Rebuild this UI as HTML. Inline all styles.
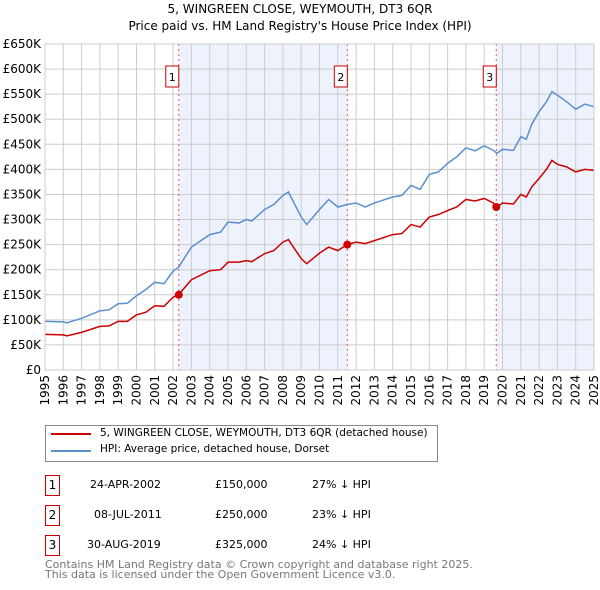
<!DOCTYPE html>
<html><head><meta charset="utf-8"><style>
body{margin:0;background:#fff;font-family:"DejaVu Sans","Liberation Sans",sans-serif;}
#wrap{position:relative;width:600px;height:590px;overflow:hidden}
.t{position:absolute;font-size:12px;color:#000;white-space:nowrap}
.box{position:absolute;width:13px;height:19px;border:1px solid #c00;font-size:12px;text-align:center;line-height:19px}
</style></head><body><div id="wrap">
<svg id="chart" width="600" height="420" style="position:absolute;left:0;top:0"></svg>
<div style="position:absolute;left:45px;top:425px;width:391px;height:35px;border:1px solid #888;"></div>
<div style="position:absolute;left:51px;top:433px;width:40px;height:2px;background:#c00"></div>
<div class="t" style="left:100px;top:427px;font-size:10.5px">5, WINGREEN CLOSE, WEYMOUTH, DT3 6QR (detached house)</div>
<div style="position:absolute;left:51px;top:450px;width:40px;height:2px;background:#5b8fd0"></div>
<div class="t" style="left:100px;top:443px;font-size:10.5px">HPI: Average price, detached house, Dorset</div>

<div class="box" style="left:45px;top:475px">1</div>
<div class="t" style="left:90px;top:478px;font-size:11px">24-APR-2002</div>
<div class="t" style="left:215px;top:478px;font-size:11px">£150,000</div>
<div class="t" style="left:312px;top:478px;font-size:11px">27% ↓ HPI</div>
<div class="box" style="left:45px;top:505px">2</div>
<div class="t" style="left:94px;top:508px;font-size:11px">08-JUL-2011</div>
<div class="t" style="left:215px;top:508px;font-size:11px">£250,000</div>
<div class="t" style="left:312px;top:508px;font-size:11px">23% ↓ HPI</div>
<div class="box" style="left:45px;top:535px">3</div>
<div class="t" style="left:87px;top:538px;font-size:11px">30-AUG-2019</div>
<div class="t" style="left:215px;top:538px;font-size:11px">£325,000</div>
<div class="t" style="left:312px;top:538px;font-size:11px">24% ↓ HPI</div>
<div class="t" style="left:45px;top:560px;font-size:11px;color:#777;line-height:10px">Contains HM Land Registry data © Crown copyright and database right 2025.<br>This data is licensed under the Open Government Licence v3.0.</div>
</div>
<script>
const hpiYears=[1995,1996,1996.2,1997,1998,1998.5,1999,1999.5,2000,2000.5,2001,2001.5,2002,2002.3,2003,2004,2004.6,2005,2005.6,2006,2006.3,2007,2007.5,2008,2008.3,2009,2009.3,2010,2010.5,2011,2011.5,2012,2012.5,2013,2014,2014.5,2015,2015.5,2016,2016.5,2017,2017.5,2018,2018.5,2019,2019.5,2019.7,2020,2020.6,2021,2021.3,2021.6,2022,2022.4,2022.7,2023,2023.5,2024,2024.5,2025];
const hpiValues=[97,96,94,103,118,120,132,133,148,160,175,172,197,205,245,270,275,295,293,300,297,320,330,348,355,305,290,320,340,325,330,333,325,333,345,348,368,360,390,395,412,425,443,437,447,438,432,440,438,465,460,490,515,535,555,548,535,520,530,525];
const ppYears=[1995,1996,1996.2,1997,1998,1998.5,1999,1999.5,2000,2000.5,2001,2001.5,2002,2002.3,2003,2004,2004.6,2005,2005.6,2006,2006.3,2007,2007.5,2008,2008.3,2009,2009.3,2010,2010.5,2011,2011.5,2012,2012.5,2013,2014,2014.5,2015,2015.5,2016,2016.5,2017,2017.5,2018,2018.5,2019,2019.5,2019.7,2020,2020.6,2021,2021.3,2021.6,2022,2022.4,2022.7,2023,2023.5,2024,2024.5,2025];
const ppValues=[71,70,68,75,87,88,97,97,110,115,128,127,145,150,180,198,200,215,215,218,216,232,238,255,260,222,212,233,245,238,250,255,252,258,270,272,290,285,305,310,318,325,340,337,342,333,325,333,331,350,345,365,382,400,418,410,405,395,400,398];
const saleYears=[2002.31,2011.52,2019.66];
const salePrices=[150,250,325];
const saleLabels=["1","2","3"];
const yTicks=[0,50,100,150,200,250,300,350,400,450,500,550,600,650];
const xTicks=[1995,1996,1997,1998,1999,2000,2001,2002,2003,2004,2005,2006,2007,2008,2009,2010,2011,2012,2013,2014,2015,2016,2017,2018,2019,2020,2021,2022,2023,2024,2025];
const NS="http://www.w3.org/2000/svg";
const svg=document.getElementById('chart');
const X0=45,X1=594,Y0=370,Y1=44;
const x=v=>X0+(v-1995)/30*(X1-X0);
const y=v=>Y0-v/650*(Y0-Y1);
function mk(t,a){const e=document.createElementNS(NS,t);for(const k in a)e.setAttribute(k,a[k]);svg.appendChild(e);return e;}
let e;
e=mk('text',{x:300,y:13,'text-anchor':'middle','font-size':12,'font-family':'DejaVu Sans,sans-serif'});e.textContent='5, WINGREEN CLOSE, WEYMOUTH, DT3 6QR';


e=mk('text',{x:300,y:30,'text-anchor':'middle','font-size':12,'font-family':'DejaVu Sans,sans-serif'});e.textContent="Price paid vs. HM Land Registry's House Price Index (HPI)";


e=mk('rect',{x:x(saleYears[0]),y:Y1,width:x(saleYears[1])-x(saleYears[0]),height:Y0-Y1,fill:'#edf2fc'});


e=mk('rect',{x:x(saleYears[2]),y:Y1,width:X1-x(saleYears[2]),height:Y0-Y1,fill:'#edf2fc'});


yTicks.forEach(v=>{
 e=mk('line',{x1:X0,x2:X1,y1:y(v),y2:y(v),stroke:'#ccc','stroke-width':1});
 
 
 e=mk('text',{x:41,y:y(v)+4,'text-anchor':'end','font-size':12,'font-family':'DejaVu Sans,sans-serif'});
 e.textContent=v===0?'£0':'£'+v+'K';
 
 
});
xTicks.forEach(v=>{
 e=mk('line',{x1:x(v),x2:x(v),y1:Y1,y2:Y0,stroke:'#ccc','stroke-width':1});
 
 
 e=mk('text',{transform:`translate(${x(v)+4},${Y0+5}) rotate(-90)`,'text-anchor':'end','font-size':12,'font-family':'DejaVu Sans,sans-serif'});
 e.textContent=v;
 
 
});
saleYears.forEach((s,i)=>{
 e=mk('line',{x1:x(s),x2:x(s),y1:Y1,y2:Y0,stroke:'#e55','stroke-width':1,'stroke-dasharray':'2,3'});
 
 
 e=mk('rect',{x:x(s)-13,y:66,width:13,height:21,fill:'#fff',stroke:'#c00'});
 
 
 e=mk('text',{x:x(s)-6.5,y:81,'text-anchor':'middle','font-size':11,'font-family':'DejaVu Sans,sans-serif'});
 e.textContent=saleLabels[i];
 
 
});
e=mk('polyline',{points:hpiYears.map((t,i)=>x(t)+','+y(hpiValues[i])).join(' '),fill:'none',stroke:'#5b8fd0','stroke-width':1.5});


e=mk('polyline',{points:ppYears.map((t,i)=>x(t)+','+y(ppValues[i])).join(' '),fill:'none',stroke:'#c00','stroke-width':1.5});


saleYears.forEach((s,i)=>{
 e=mk('circle',{cx:x(s),cy:y(salePrices[i]),r:4,fill:'#c00'});
 
 
});
e=mk('rect',{x:X0,y:Y1,width:X1-X0,height:Y0-Y1,fill:'none',stroke:'#ccc'});


</script></body></html>
